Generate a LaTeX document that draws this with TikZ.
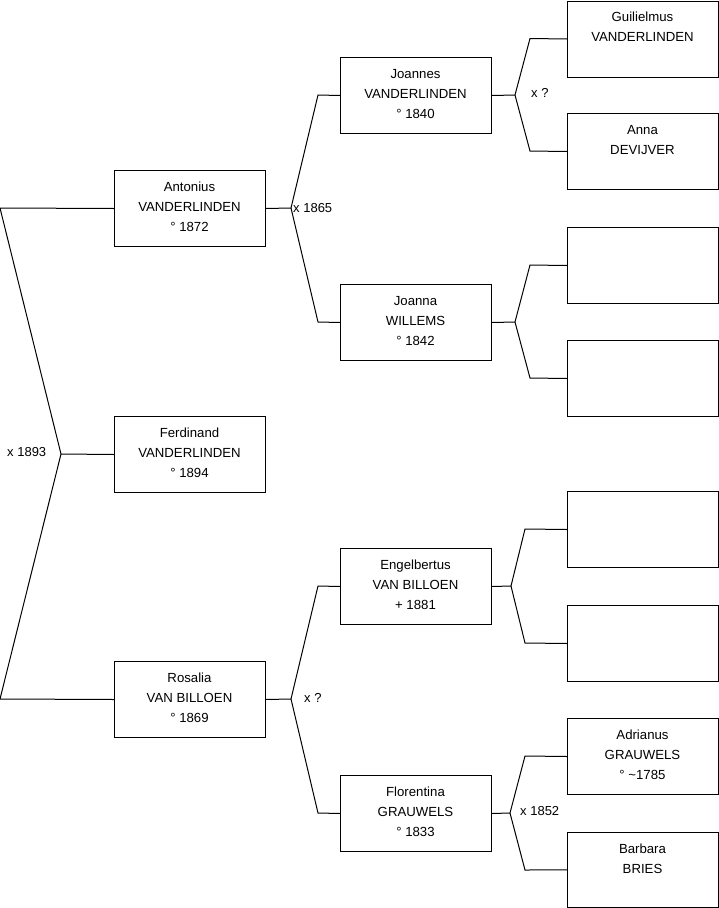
\documentclass[tikz,border=0pt]{standalone}
\usepackage{fontspec}
\setmainfont{Liberation Sans}
\begin{document}
\begin{tikzpicture}[x=1pt,y=-1pt,
  box/.style={draw=black, line width=1pt, minimum width=151pt, minimum height=76pt, inner sep=0pt, anchor=north west},
  txt/.style={anchor=north, align=center, inner sep=0pt, font=\fontsize{13.2}{20}\selectfont, execute at begin node=\strut},
  conn/.style={line width=1pt, line join=miter},
  lbl/.style={anchor=west, inner sep=0pt, font=\fontsize{13}{14}\selectfont}]
\useasboundingbox (0,0) rectangle (719,908);
% boxes
\node[box] (ant) at (114,170) {};
\node[box] (fer) at (114,416) {};
\node[box] (ros) at (114,661) {};
\node[box] (joa) at (340,57) {};
\node[box] (jna) at (340,284) {};
\node[box] (eng) at (340,548) {};
\node[box] (flo) at (340,775) {};
\node[box] (gui) at (567,0.5) {};
\node[box] (ann) at (567,113) {};
\node[box] (ea) at (567,227) {};
\node[box] (eb) at (567,340) {};
\node[box] (ec) at (567,491) {};
\node[box] (ed) at (567,605) {};
\node[box] (adr) at (567,718) {};
\node[box, minimum height=74.8pt] (bar) at (567,832) {};
% texts
\node[txt] (tant) at (189.5,182) {Antonius\\VANDERLINDEN\\° 1872};
\node[txt] (tfer) at (189.5,428) {Ferdinand\\VANDERLINDEN\\° 1894};
\node[txt] (tros) at (189.5,673) {Rosalia\\VAN BILLOEN\\° 1869};
\node[txt] (tjoa) at (415.5,69) {Joannes\\VANDERLINDEN\\° 1840};
\node[txt] (tjna) at (415.5,296) {Joanna\\WILLEMS\\° 1842};
\node[txt] (teng) at (415.5,560) {Engelbertus\\VAN BILLOEN\\+ 1881};
\node[txt] (tflo) at (415.5,787) {Florentina\\GRAUWELS\\° 1833};
\node[txt] (tgui) at (642.5,12) {Guilielmus\\VANDERLINDEN};
\node[txt] (tann) at (642.5,125) {Anna\\DEVIJVER};
\node[txt] (tadr) at (642.5,730) {Adrianus\\GRAUWELS\\° \textasciitilde1785};
\node[txt] (tbar) at (642.5,844) {Barbara\\BRIES};
% connectors
\coordinate (p1) at (61,454);
\coordinate (p1a) at (0,208);
\coordinate (p1b) at (0,699);
\draw[conn] (ant.west) -- (p1a) -- (p1) -- (p1b) -- (ros.west);
\draw[conn] (p1) -- (fer.west);
\node[lbl] (m1) at (7,452) {x 1893};

\coordinate (p2) at (291,208);
\coordinate (p2a) at (318,95);
\coordinate (p2b) at (318,322);
\draw[conn] (ant.east) -- (p2);
\draw[conn] (joa.west) -- (p2a) -- (p2) -- (p2b) -- (jna.west);
\node[lbl] (m2) at (293,208) {x 1865};

\coordinate (p3) at (291,699);
\coordinate (p3a) at (318,586);
\coordinate (p3b) at (318,813);
\draw[conn] (ros.east) -- (p3);
\draw[conn] (eng.west) -- (p3a) -- (p3) -- (p3b) -- (flo.west);
\node[lbl] (m3) at (304,698) {x ?};

\coordinate (p4) at (515,95);
\coordinate (p4a) at (530,38.5);
\coordinate (p4b) at (530,151);
\draw[conn] (joa.east) -- (p4);
\draw[conn] (gui.west) -- (p4a) -- (p4) -- (p4b) -- (ann.west);
\node[lbl] (m4) at (531,93) {x ?};

\coordinate (p5) at (515,322);
\coordinate (p5a) at (530,265);
\coordinate (p5b) at (530,378);
\draw[conn] (jna.east) -- (p5);
\draw[conn] (ea.west) -- (p5a) -- (p5) -- (p5b) -- (eb.west);

\coordinate (p6) at (511,586);
\coordinate (p6a) at (525,529);
\coordinate (p6b) at (525,643);
\draw[conn] (eng.east) -- (p6);
\draw[conn] (ec.west) -- (p6a) -- (p6) -- (p6b) -- (ed.west);

\coordinate (p7) at (510,813);
\coordinate (p7a) at (525,756);
\coordinate (p7b) at (525,870);
\draw[conn] (flo.east) -- (p7);
\draw[conn] (adr.west) -- (p7a) -- (p7) -- (p7b) -- (bar.west);
\node[lbl] (m5) at (520,811) {x 1852};
\end{tikzpicture}
\end{document}
